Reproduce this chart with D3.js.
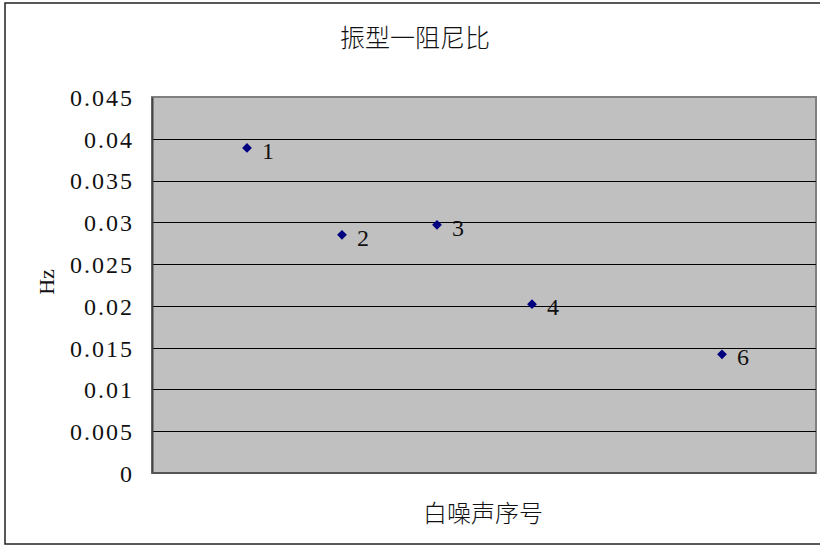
<!DOCTYPE html>
<html>
<head>
<meta charset="utf-8">
<title>振型一阻尼比</title>
<script src="https://d3js.org/d3.v7.min.js"></script>
<style>
    body { margin: 0; background: #fff; }
    .tick-label { font-family: 'Liberation Serif', serif; font-size: 24px; letter-spacing: 2px; }
    .cjk { font-family: 'Noto Sans CJK SC', sans-serif; font-weight: 300; }
</style>
</head>
<body>
<div id="chart"></div>
<script>
    // data
    const categories = [1, 2, 3, 4, 6];
    const values = [0.0389, 0.0285, 0.0297, 0.0202, 0.0142];
    const yTicks = [0, 0.005, 0.01, 0.015, 0.02, 0.025, 0.03, 0.035, 0.04, 0.045];

    const width = 820, height = 546;
    const plot = { left: 152, top: 97, right: 816, bottom: 473 };

    const svg = d3.select('#chart').append('svg')
        .attr('width', width)
        .attr('height', height);

    // outer chart border (right side runs off the picture)
    svg.append('rect')
        .attr('x', 5).attr('y', 3)
        .attr('width', 830).attr('height', 541)
        .attr('fill', '#fff')
        .attr('stroke', '#222')
        .attr('stroke-width', 1.5);

    const x = d3.scaleLinear().domain([0, 7]).range([plot.left, plot.left + 95 * 7]);
    const y = d3.scaleLinear().domain([0, 0.045]).range([plot.bottom, plot.top]);

    // plot area
    svg.append('rect')
        .attr('x', plot.left).attr('y', plot.top)
        .attr('width', plot.right - plot.left).attr('height', plot.bottom - plot.top)
        .attr('fill', '#c0c0c0')
        .attr('stroke', '#808080')
        .attr('stroke-width', 2);

    // gridlines
    svg.append('g')
        .selectAll('line')
        .data(yTicks.filter(d => d > 0 && d < 0.045))
        .join('line')
        .attr('x1', plot.left).attr('x2', plot.right)
        .attr('y1', d => Math.round(y(d)) + 0.5)
        .attr('y2', d => Math.round(y(d)) + 0.5)
        .attr('stroke', '#000')
        .attr('stroke-width', 1);

    // y axis
    const yAxis = svg.append('g')
        .attr('transform', `translate(${plot.left},0)`)
        .call(d3.axisLeft(y).tickValues(yTicks).tickSize(0).tickPadding(18)
            .tickFormat(d => d === 0 ? '0' : String(+d.toFixed(3))));
    yAxis.select('.domain').attr('stroke', '#444').attr('stroke-width', 2);
    yAxis.selectAll('text')
        .attr('class', 'tick-label')
        .attr('fill', '#111')
        .attr('dy', '0.35em');

    // bottom axis line
    svg.append('line')
        .attr('x1', plot.left).attr('x2', plot.right)
        .attr('y1', plot.bottom).attr('y2', plot.bottom)
        .attr('stroke', '#555')
        .attr('stroke-width', 2);

    // points: square turned 45 degrees
    const pts = svg.append('g');
    pts.selectAll('path')
        .data(categories)
        .join('path')
        .attr('d', d3.symbol().type(d3.symbolSquare).size(48))
        .attr('transform', (d, i) => `translate(${x(d)},${y(values[i])}) rotate(45)`)
        .attr('fill', '#000080');

    pts.selectAll('text')
        .data(categories)
        .join('text')
        .attr('x', d => x(d) + 15)
        .attr('y', (d, i) => y(values[i]) + 11)
        .attr('font-family', 'Liberation Serif, serif')
        .attr('font-size', 24)
        .attr('fill', '#111')
        .text(d => d);

    // titles
    svg.append('text')
        .attr('class', 'cjk')
        .attr('x', 415).attr('y', 47)
        .attr('text-anchor', 'middle')
        .attr('font-size', 25)
        .attr('fill', '#111')
        .text('振型一阻尼比');

    svg.append('text')
        .attr('class', 'cjk')
        .attr('x', 483).attr('y', 522)
        .attr('text-anchor', 'middle')
        .attr('font-size', 24)
        .attr('fill', '#111')
        .text('白噪声序号');

    svg.append('text')
        .attr('transform', 'translate(54,282) rotate(-90)')
        .attr('text-anchor', 'middle')
        .attr('font-family', 'Liberation Serif, serif')
        .attr('font-size', 22)
        .attr('fill', '#111')
        .text('Hz');
</script>
</body>
</html>
